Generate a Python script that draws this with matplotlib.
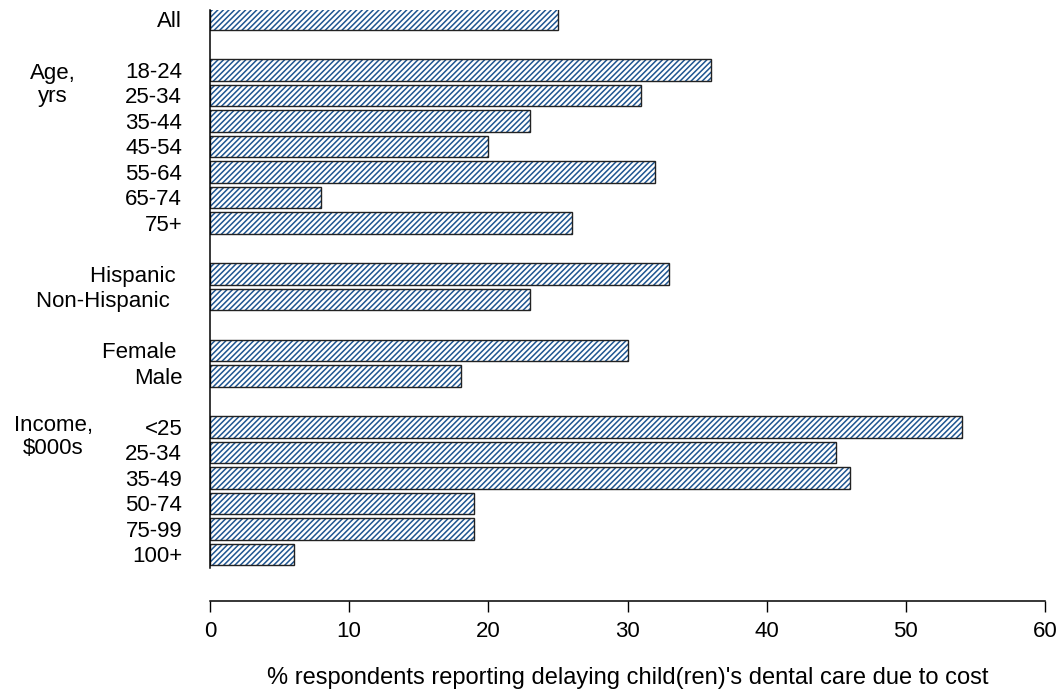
import matplotlib.pyplot as plt
import matplotlib.transforms as mtransforms
import numpy as np

plt.rcParams['font.family'] = ['Liberation Sans', 'DejaVu Sans']
plt.rcParams['hatch.linewidth'] = 1.1

# labels and values (top to bottom)
labels = ["All",
          "18-24", "25-34", "35-44", "45-54", "55-64", "65-74", "75+",
          "Hispanic ", "Non-Hispanic  ",
          "Female ", "Male",
          "<25", "25-34", "35-49", "50-74", "75-99", "100+"]
values = [25,
          36, 31, 23, 20, 32, 8, 26,
          33, 23,
          30, 18,
          54, 45, 46, 19, 19, 6]
# row slot of every bar (blank slots separate the groups)
slots = [0, 2, 3, 4, 5, 6, 7, 8, 10, 11, 13, 14, 16, 17, 18, 19, 20, 21]

groups = [("Age,", "yrs"), ("Income,", "$000s")]
group_slots = [2.05, 15.85]

xticks = [0, 10, 20, 30, 40, 50, 60]
xlabel = "% respondents reporting delaying child(ren)'s dental care due to cost"

fs = 16

fig = plt.figure(figsize=(10.63, 6.94), dpi=100)
ax = fig.add_axes([210/1063, 1 - 568/694, 835/1063, 558/694])

y = np.array(slots)
# hatched fill with blue lines, then a dark outline on top
ax.barh(y, values, height=0.83, color='white', edgecolor='#1f5591',
        hatch='//////', linewidth=0)
ax.barh(y, values, height=0.83, fill=False, edgecolor='#222222', linewidth=1.0)

ax.set_xlim(0, 60)
ax.set_ylim(21.53, -0.353)

ax.spines['top'].set_visible(False)
ax.spines['right'].set_visible(False)
ax.spines['bottom'].set_position(('outward', 24))
ax.spines['bottom'].set_bounds(0, 60)
ax.spines['left'].set_linewidth(1.1)
ax.spines['bottom'].set_linewidth(1.1)

ax.set_xticks(xticks)
ax.set_xticklabels([str(t) for t in xticks], fontsize=fs)
ax.tick_params(axis='x', direction='out', length=8, width=1, pad=6)

ax.set_yticks(slots)
ax.set_yticklabels(labels, fontsize=fs)
ax.tick_params(axis='y', length=0, pad=20)

trans = mtransforms.blended_transform_factory(fig.transFigure, ax.transData)
for (l1, l2), s in zip(groups, group_slots):
    ax.text(53/1063, s, l1, transform=trans, ha='center', va='center_baseline', fontsize=fs)
    ax.text(53/1063, s + 0.88, l2, transform=trans, ha='center', va='center_baseline', fontsize=fs)

ax.set_xlabel(xlabel, fontsize=17, labelpad=18)

fig.savefig('out.png', dpi=100)
